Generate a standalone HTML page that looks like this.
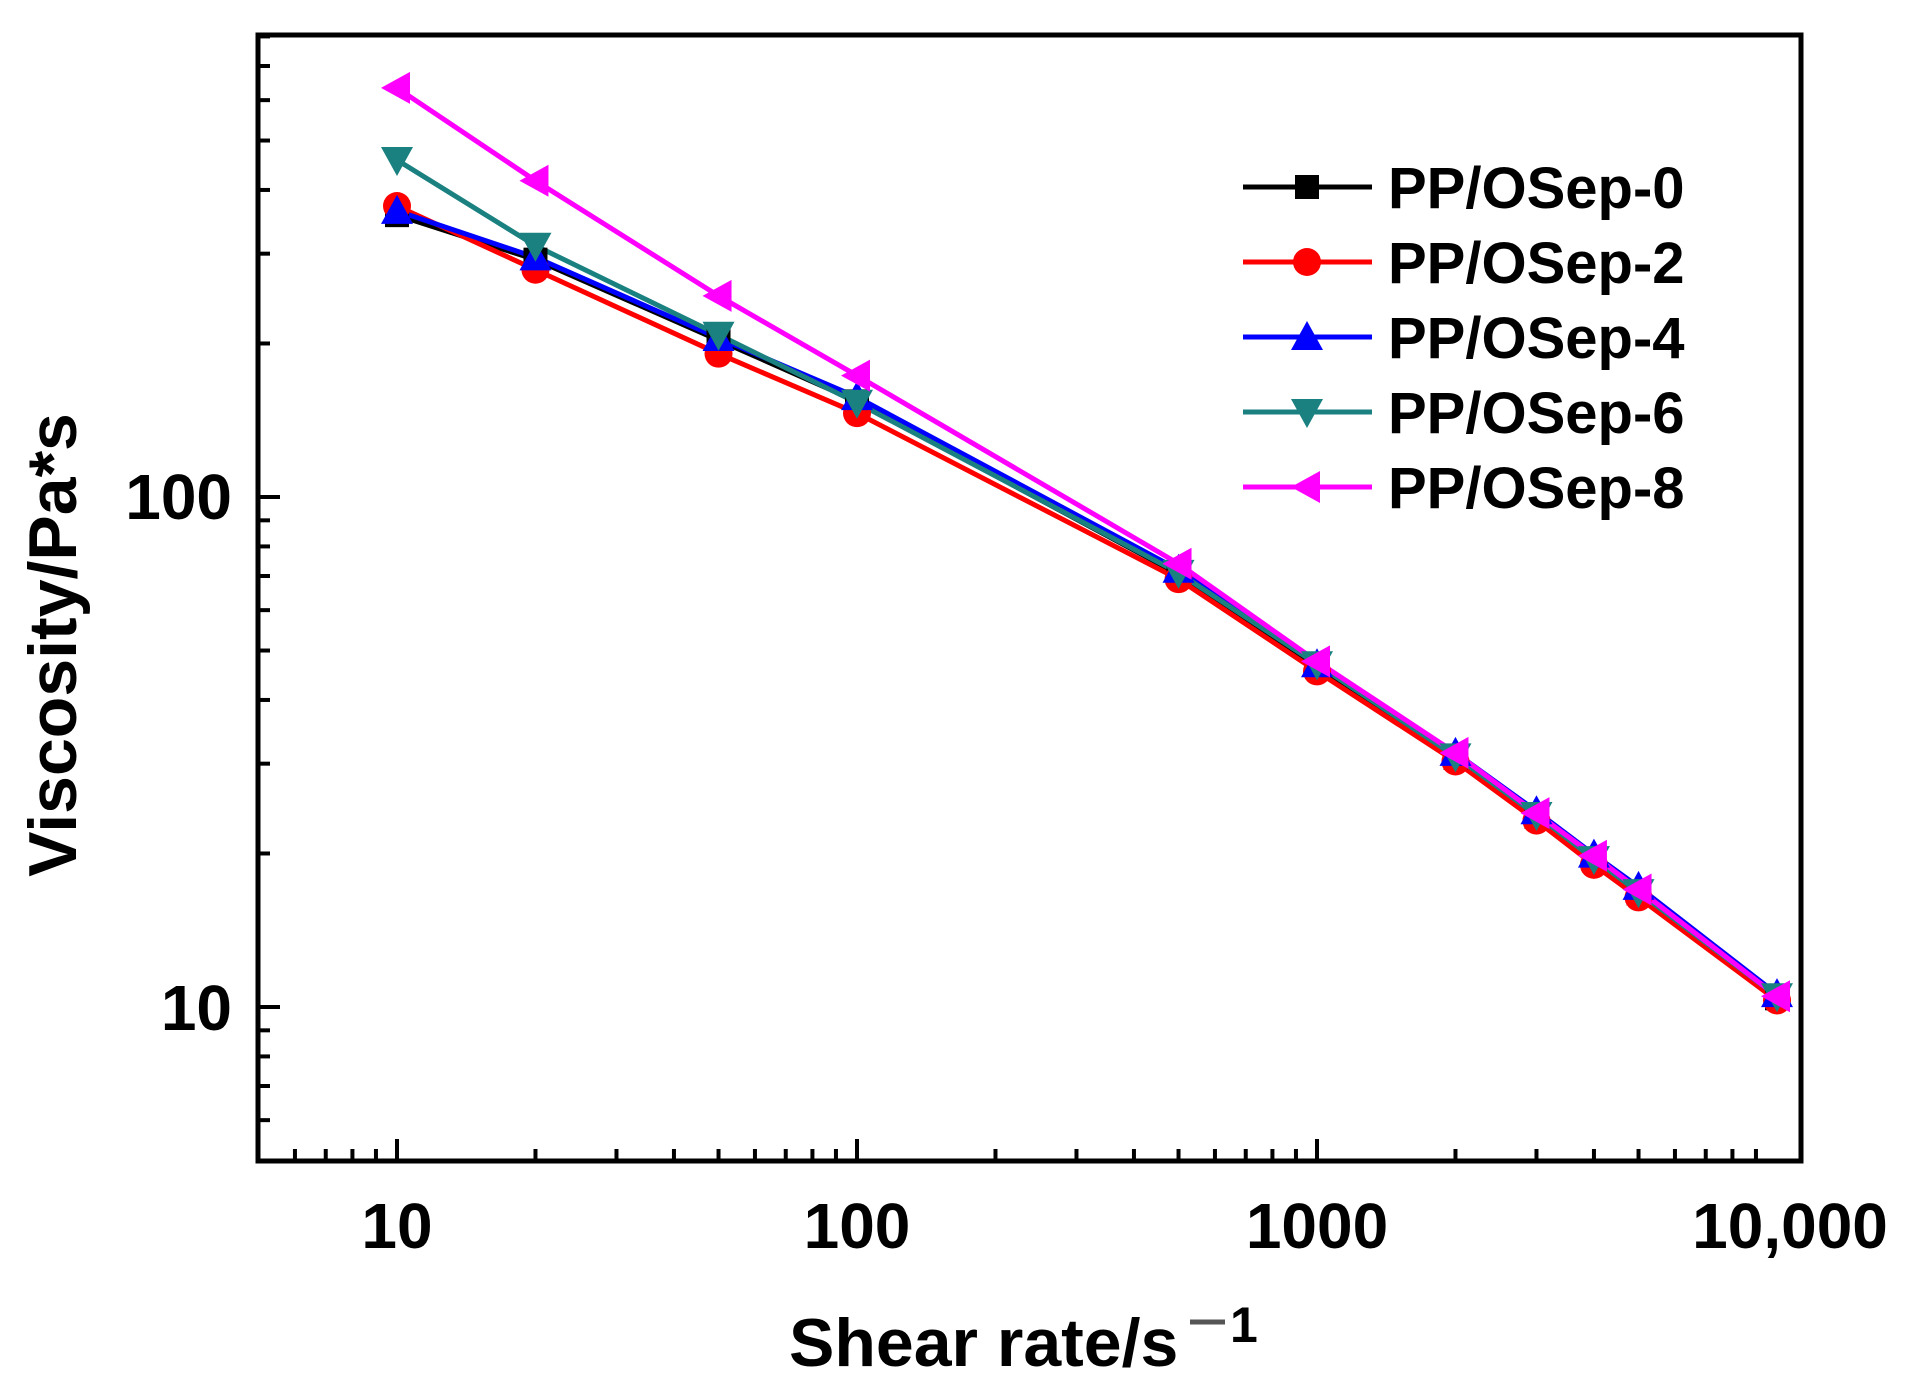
<!DOCTYPE html>
<html><head><meta charset="utf-8"><style>html,body{margin:0;padding:0;background:#fff}svg{display:block}</style></head>
<body>
<svg id="s" width="1914" height="1376" viewBox="0 0 1914 1376" xmlns="http://www.w3.org/2000/svg" font-family="Liberation Sans, Arial, sans-serif" font-weight="bold">
<rect width="1914" height="1376" fill="#fff"/>
<g id="ax" stroke="#000" stroke-width="5" fill="none">
<rect x="258" y="35" width="1543" height="1126"/>
</g>
<g id="ticks" stroke="#000" stroke-width="4"></g>
<g id="data"></g>
<g font-size="64" fill="#000">
<text x="232" y="519" text-anchor="end">100</text>
<text x="232" y="1030" text-anchor="end">10</text>
<text x="397" y="1248" text-anchor="middle">10</text>
<text x="857" y="1248" text-anchor="middle">100</text>
<text x="1317" y="1248" text-anchor="middle">1000</text>
<text x="1790" y="1248" text-anchor="middle">10,000</text>
</g>
<text transform="translate(76,645) rotate(-90)" font-size="68" text-anchor="middle">Viscosity/Pa*s</text>
<text x="789" y="1366" font-size="68">Shear rate/s</text>
<line x1="1190" y1="1322" x2="1225" y2="1322" stroke="#555" stroke-width="5"/>
<text x="1230" y="1342" font-size="50">1</text>
<g id="leg" font-size="58"></g>
</svg>
<script>
const X=v=>397+460*(Math.log10(v)-1), Y=v=>1007-510*(Math.log10(v)-1);
const xs=[10,20,50,100,500,1000,2000,3000,4000,5000,10000];
const S=[
{c:'#000',m:'sq',n:'PP/OSep-0',d:[357,292,203,154,70.6,46.4,30.8,23.6,19.4,16.7,10.4]},
{c:'#f00',m:'ci',n:'PP/OSep-2',d:[372,279,191,146,69,45.5,30.3,23.2,19,16.4,10.3]},
{c:'#00f',m:'up',n:'PP/OSep-4',d:[364,295,205,157,72,47,31.5,24.2,19.9,17.2,10.6]},
{c:'#1a8080',m:'dn',n:'PP/OSep-6',d:[458,311,208,153,71,47,31,23.8,19.5,16.8,10.5]},
{c:'#f0f',m:'lt',n:'PP/OSep-8',d:[634,417,248,173,74,47.6,31.5,24,19.8,17,10.5]}];
const NS='http://www.w3.org/2000/svg';
function el(p,t,a){const e=document.createElementNS(NS,t);for(const k in a)e.setAttribute(k,a[k]);p.appendChild(e);return e;}
function mk(g,m,x,y,c){
 if(m=='sq')el(g,'rect',{x:x-12,y:y-12,width:24,height:24,fill:c});
 else if(m=='ci')el(g,'circle',{cx:x,cy:y,r:14,fill:c});
 else if(m=='up')el(g,'polygon',{points:`${x},${y-16} ${x+16},${y+13} ${x-16},${y+13}`,fill:c});
 else if(m=='dn')el(g,'polygon',{points:`${x},${y+16} ${x+16},${y-13} ${x-16},${y-13}`,fill:c});
 else el(g,'polygon',{points:`${x-16},${y} ${x+13},${y-16} ${x+13},${y+16}`,fill:c});}
const tk=document.getElementById('ticks');
for(let d=0;d<3;d++)for(let k=1;k<10;k++){const v=k*Math.pow(10,d);if(v<5||v>800)continue;const y=Y(v);const L=(k==1)?22:12;el(tk,'line',{x1:258,y1:y,x2:258+L,y2:y});}
for(let d=0;d<4;d++)for(let k=1;k<10;k++){const v=k*Math.pow(10,d);if(v<5.5||v>11000)continue;const x=X(v);const L=(k==1)?22:12;el(tk,'line',{x1:x,y1:1161,x2:x,y2:1161-L});}
const dg=document.getElementById('data');
S.forEach(s=>{el(dg,'polyline',{points:xs.map((x,i)=>X(x)+','+Y(s.d[i])).join(' '),fill:'none',stroke:s.c,'stroke-width':5});});
S.forEach(s=>{xs.forEach((x,i)=>mk(dg,s.m,X(x),Y(s.d[i]),s.c));});
const lg=document.getElementById('leg');const ly=[187,262,337,412,487];
S.forEach((s,i)=>{el(lg,'line',{x1:1243,y1:ly[i],x2:1372,y2:ly[i],stroke:s.c,'stroke-width':5});mk(lg,s.m,1307,ly[i],s.c);const t=el(lg,'text',{x:1388,y:ly[i]+21});t.textContent=s.n;});
</script>
</body></html>
